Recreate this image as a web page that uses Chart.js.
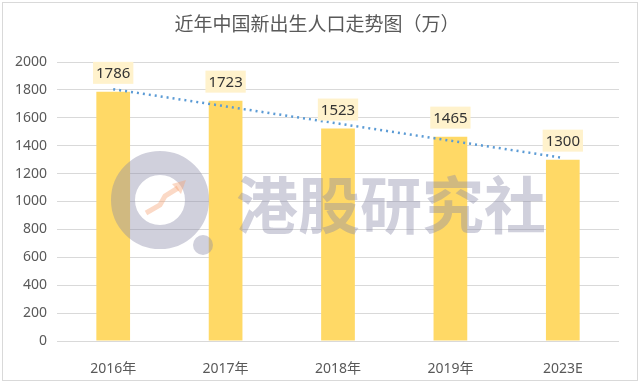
<!DOCTYPE html>
<html>
<head>
<meta charset="utf-8">
<script src="https://cdn.jsdelivr.net/npm/chart.js@4"></script>
<style>
  html, body { margin: 0; padding: 0; background: #fff; }
  #wrap { position: relative; width: 640px; height: 385px; }
</style>
</head>
<body>
<div id="wrap"><canvas id="birthChart"></canvas></div>
<script>
// data
const chartTitle = '近年中国新出生人口走势图（万）';
const years = ['2016年', '2017年', '2018年', '2019年', '2023E'];
const births = [1786, 1723, 1523, 1465, 1300];
// dotted trend line, read from its ends
const trend = [1805, 1682, 1559, 1436, 1313];
const yTicks = [0, 200, 400, 600, 800, 1000, 1200, 1400, 1600, 1800, 2000];

const fontFamily = '"Noto Sans", "Noto Sans CJK SC", sans-serif';

// grey frame and the title (title is centred on the whole picture, not the plot)
const frame = {
    id: 'frame',
    beforeDraw(chart) {
        const ctx = chart.ctx;
        ctx.save();
        ctx.strokeStyle = '#d9d9d9';
        ctx.lineWidth = 1;
        ctx.strokeRect(2.5, 2.5, 635, 378);
        ctx.fillStyle = '#595959';
        ctx.font = '19px ' + fontFamily;
        ctx.textAlign = 'center';
        ctx.textBaseline = 'middle';
        ctx.fillText(chartTitle, 317, 26);
        ctx.restore();
    }
};

// value boxes above the bars
const valueBoxes = {
    id: 'valueBoxes',
    afterDatasetsDraw(chart) {
        const ctx = chart.ctx;
        const meta = chart.getDatasetMeta(1);
        ctx.save();
        ctx.font = '15px ' + fontFamily;
        ctx.textAlign = 'center';
        ctx.textBaseline = 'middle';
        meta.data.forEach((bar, i) => {
            const txt = String(births[i]);
            const w = ctx.measureText(txt).width + 6;
            const h = 22;
            const bottom = bar.y - 8;
            ctx.fillStyle = '#fff2cc';
            ctx.fillRect(bar.x - w / 2, bottom - h, w, h);
            ctx.fillStyle = '#333333';
            ctx.fillText(txt, bar.x, bottom - h / 2 + 1);
        });
        ctx.restore();
    }
};

// watermark over the plot
const watermark = {
    id: 'watermark',
    afterDatasetsDraw(chart) {
        const ctx = chart.ctx;
        ctx.save();
        ctx.globalAlpha = 0.4;
        ctx.strokeStyle = '#8a8aa8';
        ctx.lineWidth = 24;
        ctx.beginPath();
        ctx.arc(160, 200, 37, 0, Math.PI * 2);
        ctx.stroke();
        ctx.fillStyle = '#8a8aa8';
        ctx.beginPath();
        ctx.arc(203, 245, 10, 0, Math.PI * 2);
        ctx.fill();
        ctx.strokeStyle = '#f4a070';
        ctx.lineWidth = 5;
        ctx.beginPath();
        ctx.moveTo(146, 213);
        ctx.lineTo(160, 205);
        ctx.lineTo(165, 196);
        ctx.lineTo(178, 188);
        ctx.stroke();
        ctx.fillStyle = '#f4a070';
        ctx.beginPath();
        ctx.moveTo(186, 180);
        ctx.lineTo(172, 184);
        ctx.lineTo(181, 194);
        ctx.closePath();
        ctx.fill();
        ctx.fillStyle = '#8a8aa8';
        ctx.font = 'bold 62px "Noto Sans CJK SC", sans-serif';
        ctx.textAlign = 'left';
        ctx.textBaseline = 'middle';
        ctx.fillText('港股研究社', 236, 205);
        ctx.restore();
    }
};

const ctx = document.getElementById('birthChart').getContext('2d');
const birthChart = new Chart(ctx, {
    data: {
        labels: years,
        datasets: [
            {
                type: 'line',
                data: trend,
                borderColor: '#5b9bd5',
                borderWidth: 2.5,
                borderDash: [2, 4],
                pointRadius: 0,
                fill: false,
                order: 0
            },
            {
                type: 'bar',
                data: births,
                backgroundColor: '#ffd966',
                categoryPercentage: 1,
                barPercentage: 0.3,
                order: 1
            }
        ]
    },
    options: {
        responsive: true,
        maintainAspectRatio: false,
        animation: false,
        layout: { padding: { left: 0, right: 21, top: 62, bottom: 0 } },
        plugins: {
            legend: { display: false },
            tooltip: { enabled: false },
            title: { display: false }
        },
        scales: {
            x: {
                grid: { display: false },
                border: { display: false },
                ticks: { color: '#595959', font: { family: fontFamily, size: 14 }, padding: 12 },
                afterFit(axis) { axis.height = 44; }
            },
            y: {
                min: 0,
                max: 2000,
                afterBuildTicks(axis) { axis.ticks = yTicks.map(v => ({ value: v })); },
                afterFit(axis) { axis.width = 57; },
                grid: { color: '#d9d9d9', lineWidth: 1, drawTicks: false },
                border: { display: false },
                ticks: { color: '#595959', font: { family: fontFamily, size: 14 }, padding: 10, callback: v => String(v) }
            }
        }
    },
    plugins: [frame, watermark, valueBoxes]
});
</script>
</body>
</html>
